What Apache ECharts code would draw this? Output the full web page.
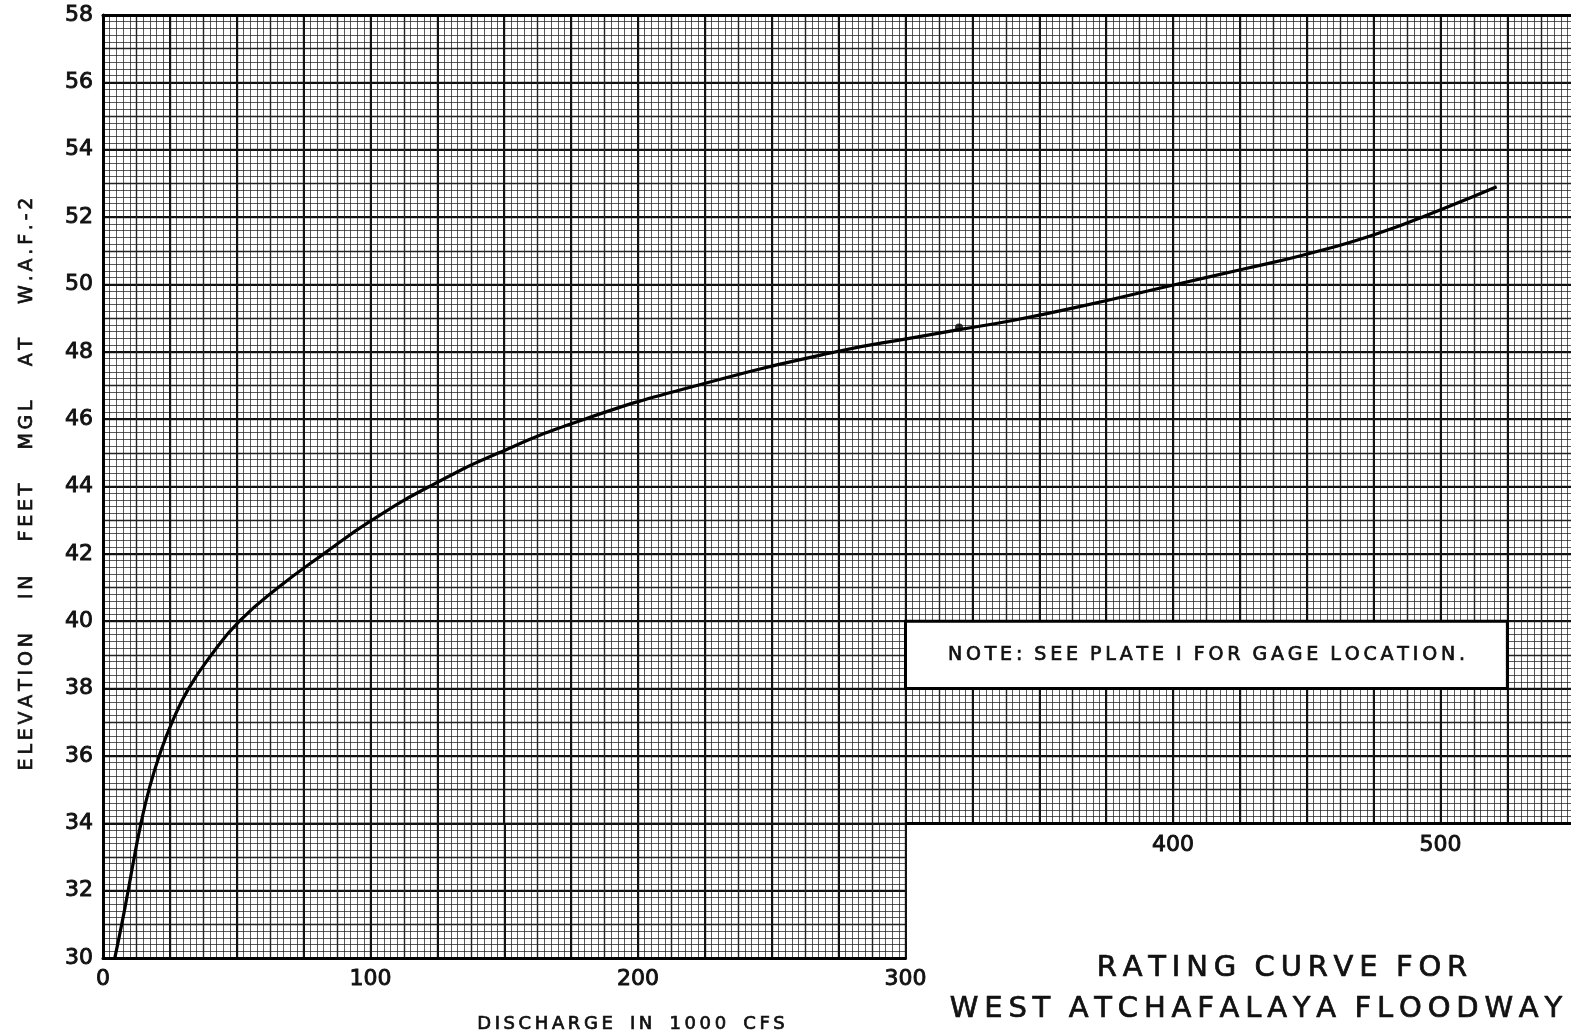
<!DOCTYPE html>
<html>
<head>
<meta charset="utf-8">
<title>Rating Curve for West Atchafalaya Floodway</title>
<script src="https://cdn.jsdelivr.net/npm/echarts@6/dist/echarts.min.js"></script>
<style>
  html, body { margin: 0; padding: 0; background: #fff; }
  #chart { width: 1571px; height: 1036px; }
</style>
</head>
<body>
<div id="chart"></div>
<script>
// Rating curve: discharge (1000 cfs) vs. stage (ft MGL) at gage W.A.F.-2
const discharge = [4.4, 7.0, 9.4, 11.7, 14.2, 17.2, 21.0, 25.8, 32.0, 40.5, 51, 65.5, 82.5, 100.5, 122, 148, 180, 222, 274, 303, 320, 340, 365, 401, 426, 451, 476, 501, 521];
const elevation = [30, 31, 32, 33, 34, 35, 36, 37, 38, 39, 40, 41, 42, 43, 44, 45, 46, 47, 48, 48.42, 48.66, 48.93, 49.34, 50.0, 50.45, 50.92, 51.5, 52.25, 52.9];

// plotted observation on the curve
const obsDischarge = [320];
const obsElevation = [48.72];

// axis ranges and labelled ticks
const xRangeUpper = [0, 550];      // full-width sheet above 34 ft
const xRangeLower = [0, 300];      // left block below 34 ft
const yRangeUpper = [34, 58];
const yRangeLower = [30, 34];
const xTickLabelsLower = [0, 100, 200, 300];
const xTickLabelsUpper = [400, 500];

// note box extent (discharge, elevation)
const noteX = [300, 525];
const noteY = [38, 40];
const noteText = 'NOTE: SEE PLATE I FOR GAGE LOCATION.';

const curveTable = discharge.map((d, i) => [d, elevation[i]]);
const obsTable = obsDischarge.map((d, i) => [d, obsElevation[i]]);

// sheet geometry
const plotLeft = 103, plotTop = 15;
const pxPerX = 2.675, pxPerFt = 33.68;

const FONT = 'DejaVu Sans';
const INK = '#111';
const THIN = '\u2009';
// draftsman lettering: letters set apart, words separated by a wider gap
function lettered(text, letterGap, wordGap) {
  return text.split(' ').map(w => w.split('').join(letterGap)).join(wordGap);
}
// pen-lettered text is a touch heavier than a regular face
function inkText(size, extra) {
  return Object.assign({ text: '', fontFamily: FONT, fontSize: size, fill: INK,
    stroke: INK, lineWidth: 0.7, align: 'center', verticalAlign: 'middle' }, extra);
}

const minorLine = { show: true, lineStyle: { color: 'rgba(25,25,25,0.72)', width: 1 } };
const midLine = { show: true, lineStyle: { color: '#222', width: 1.4 } };
const heavyLine = { show: true, lineStyle: { color: '#111', width: 2 } };
const border = { show: true, lineStyle: { color: '#000', width: 3 } };
const tickFont = { fontFamily: FONT, fontSize: 22, color: INK, textBorderColor: INK, textBorderWidth: 0.9 };

const upperH = (yRangeUpper[1] - yRangeUpper[0]) * pxPerFt;
const lowerH = (yRangeLower[1] - yRangeLower[0]) * pxPerFt;

const option = {
  animation: false,
  backgroundColor: '#fff',
  grid: [
    { left: plotLeft, top: plotTop, width: (xRangeUpper[1] - xRangeUpper[0]) * pxPerX, height: upperH,
      containLabel: false, outerBoundsMode: 'none' },
    { left: plotLeft, top: plotTop + upperH, width: (xRangeLower[1] - xRangeLower[0]) * pxPerX, height: lowerH,
      containLabel: false, outerBoundsMode: 'none' }
  ],
  xAxis: [
    { gridIndex: 0, type: 'value', position: 'bottom', min: xRangeUpper[0], max: xRangeUpper[1], interval: 12.5,
      axisLine: { show: false }, axisTick: { show: false },
      splitLine: midLine, minorTick: { show: false, splitNumber: 5 }, minorSplitLine: minorLine,
      axisLabel: Object.assign({ margin: 11, formatter: v => xTickLabelsUpper.includes(v) ? String(v) : '' }, tickFont) },
    { gridIndex: 0, type: 'value', position: 'top', min: xRangeUpper[0], max: xRangeUpper[1], interval: 25,
      axisLine: border, axisTick: { show: false }, axisLabel: { show: false }, splitLine: heavyLine },
    { gridIndex: 1, type: 'value', position: 'bottom', min: xRangeLower[0], max: xRangeLower[1], interval: 12.5,
      axisLine: border, axisTick: { show: false },
      splitLine: midLine, minorTick: { show: false, splitNumber: 5 }, minorSplitLine: minorLine,
      axisLabel: Object.assign({ margin: 10, formatter: v => xTickLabelsLower.includes(v) ? String(v) : '' }, tickFont) },
    { gridIndex: 1, type: 'value', position: 'top', min: xRangeLower[0], max: xRangeLower[1], interval: 25,
      axisLine: { show: false }, axisTick: { show: false }, axisLabel: { show: false }, splitLine: heavyLine }
  ],
  yAxis: [
    { gridIndex: 0, type: 'value', position: 'right', min: yRangeUpper[0], max: yRangeUpper[1], interval: 1,
      axisLine: { show: false }, axisTick: { show: false }, axisLabel: { show: false },
      splitLine: midLine, minorTick: { show: false, splitNumber: 5 }, minorSplitLine: minorLine },
    { gridIndex: 0, type: 'value', position: 'left', min: yRangeUpper[0], max: yRangeUpper[1], interval: 2,
      axisLine: border, axisTick: { show: false }, splitLine: heavyLine,
      axisLabel: Object.assign({ margin: 10 }, tickFont) },
    { gridIndex: 1, type: 'value', position: 'right', min: yRangeLower[0], max: yRangeLower[1], interval: 1,
      axisLine: border, axisTick: { show: false }, axisLabel: { show: false },
      splitLine: midLine, minorTick: { show: false, splitNumber: 5 }, minorSplitLine: minorLine },
    { gridIndex: 1, type: 'value', position: 'left', min: yRangeLower[0], max: yRangeLower[1], interval: 2,
      axisLine: border, axisTick: { show: false }, splitLine: heavyLine,
      axisLabel: Object.assign({ margin: 10, showMaxLabel: false, formatter: v => v < yRangeLower[1] ? String(v) : '' }, tickFont) }
  ],
  series: [
    { type: 'line', xAxisIndex: 0, yAxisIndex: 0, data: curveTable, clip: true,
      smooth: 0.5, showSymbol: false, symbol: 'none',
      lineStyle: { color: '#000', width: 3.2 }, z: 5,
      markLine: { silent: true, symbol: 'none', label: { show: false },
        lineStyle: { color: '#000', width: 3, type: 'solid' },
        data: [[{ coord: [xRangeLower[1], yRangeUpper[0]] }, { coord: [xRangeUpper[1], yRangeUpper[0]] }]] },
      markArea: { silent: true,
        itemStyle: { color: '#fff', opacity: 1, borderColor: '#000', borderWidth: 3 },
        label: { show: true, position: 'inside', fontFamily: FONT, fontSize: 19, color: INK,
          textBorderColor: INK, textBorderWidth: 0.7,
          formatter: () => lettered(noteText, THIN, '  ') },
        data: [[{ coord: [noteX[0], noteY[1]] }, { coord: [noteX[1], noteY[0]] }]] } },
    { type: 'line', xAxisIndex: 2, yAxisIndex: 2, data: curveTable, clip: true,
      smooth: 0.5, showSymbol: false, symbol: 'none',
      lineStyle: { color: '#000', width: 3.2 }, z: 5 },
    { type: 'scatter', xAxisIndex: 0, yAxisIndex: 0, data: obsTable,
      symbol: 'circle', symbolSize: 8, itemStyle: { color: '#000' }, z: 6 }
  ],
  graphic: [
    { type: 'text', x: 27, y: 484, rotation: Math.PI / 2, z: 10,
      style: inkText(19, { text: lettered('ELEVATION IN FEET MGL AT W.A.F.-2', THIN, '     ' + THIN) }) },
    { type: 'text', x: 631, y: 1024, z: 10,
      style: inkText(18, { text: lettered('DISCHARGE IN 1000 CFS', THIN, '   ') }) },
    { type: 'text', x: 1282, y: 968, z: 10,
      style: inkText(29, { text: lettered('RATING CURVE FOR', THIN, '  ') }) },
    { type: 'text', x: 1256, y: 1009, z: 10,
      style: inkText(29, { text: lettered('WEST ATCHAFALAYA FLOODWAY', THIN, '  ') }) }
  ]
};

const chart = echarts.init(document.getElementById('chart'), null, { renderer: 'canvas' });
chart.setOption(option);
</script>
</body>
</html>
